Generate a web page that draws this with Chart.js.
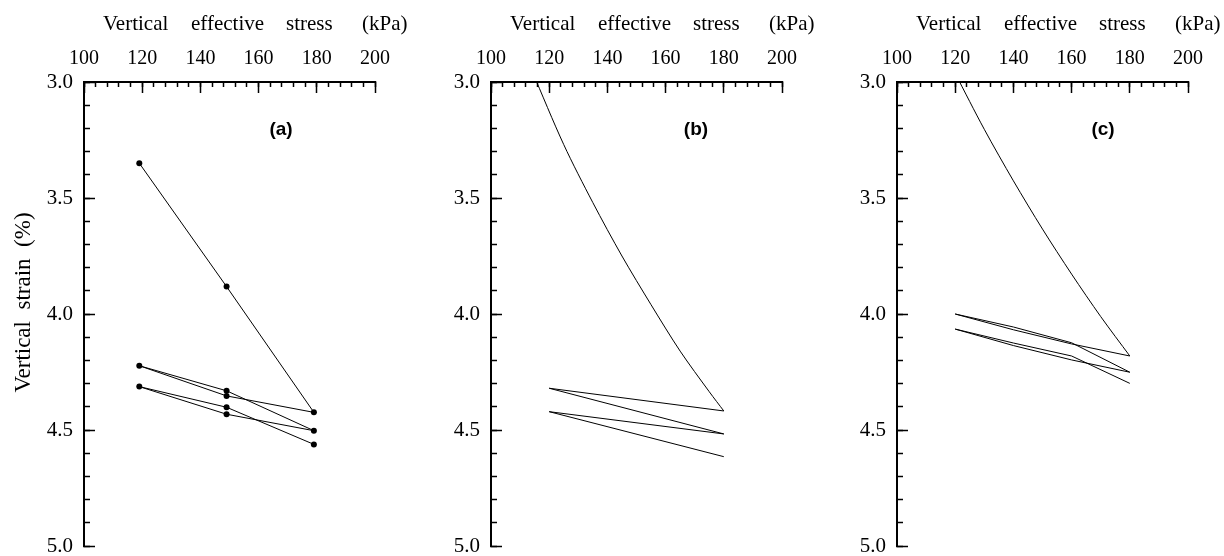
<!DOCTYPE html>
<html>
<head>
<meta charset="utf-8">
<script src="https://cdn.jsdelivr.net/npm/chart.js@4.4.1/dist/chart.umd.min.js"></script>
<style>
html, body { margin: 0; padding: 0; background: #fff; }
#wrap { position: relative; width: 1224px; height: 556px; overflow: hidden; }
canvas { position: absolute; top: 0; }
</style>
</head>
<body>
<div id="wrap">
<canvas id="chartA" width="440" height="556" style="left:0px"></canvas>
<canvas id="chartB" width="440" height="556" style="left:407px"></canvas>
<canvas id="chartC" width="440" height="556" style="left:813px"></canvas>
</div>
<script>
// axis ticks
var xTicks = [100, 120, 140, 160, 180, 200];
var yTicks = [3.0, 3.5, 4.0, 4.5, 5.0];
var titleWords = ['Vertical', 'effective', 'stress', '(kPa)'];

// (a) measured points, in test order (load / unload / reload)
var stressA = [119, 149, 179, 149, 119, 149, 179, 149, 119, 149, 179];
var strainA = [3.35, 3.882, 4.424, 4.353, 4.223, 4.331, 4.503, 4.432, 4.313, 4.402, 4.562];

// (b) model: virgin curve then unload/reload cycles
var curveStressB = [114, 125, 135, 145, 155, 165, 175, 180];
var curveStrainB = [2.95, 3.27, 3.52, 3.75, 3.96, 4.16, 4.335, 4.418];
var cycleStressB = [180, 120, 180, 120, 180];
var cycleStrainB = [4.418, 4.32, 4.517, 4.421, 4.615];

// (c) model
var curveStressC = [120, 130, 140, 150, 160, 170, 180];
var curveStrainC = [2.963, 3.204, 3.426, 3.634, 3.828, 4.011, 4.181];
var cycleStressC = [180, 160, 140, 120, 140, 160, 180, 160, 140, 120, 140, 160, 180];
var cycleStrainC = [4.181, 4.129, 4.068, 4.0, 4.056, 4.124, 4.251, 4.198, 4.136, 4.065, 4.125, 4.181, 4.299];

Chart.defaults.font.family = '"Liberation Serif", "Times New Roman", serif';
Chart.defaults.color = '#000';

function toPoints(xs, ys) {
    return xs.map(function (x, i) { return { x: x, y: ys[i] }; });
}

function line(xs, ys, opts) {
    var ds = {
        data: toPoints(xs, ys),
        showLine: true,
        borderColor: '#000',
        borderWidth: 1,
        pointRadius: 0,
        tension: 0,
        xAxisID: 'x',
        yAxisID: 'y'
    };
    for (var k in opts) ds[k] = opts[k];
    return ds;
}

// axis title words and panel letter
var panelText = {
    id: 'panelText',
    afterDraw: function (chart, args, options) {
        var ctx = chart.ctx, area = chart.chartArea;
        var offs = [19, 107, 202, 278];
        ctx.save();
        ctx.fillStyle = '#000';
        ctx.font = '21px "Liberation Serif", "Times New Roman", serif';
        ctx.textBaseline = 'alphabetic';
        titleWords.forEach(function (w, i) {
            ctx.fillText(w, area.left + offs[i], 30);
        });
        ctx.font = 'bold 19px "Liberation Sans", Arial, sans-serif';
        ctx.textAlign = 'center';
        ctx.textBaseline = 'middle';
        ctx.fillText(options.letter, area.left + options.letterX, 130);
        ctx.restore();
    }
};

function makeChart(id, datasets, letter, letterX, showYTitle) {
    var ctx = document.getElementById(id).getContext('2d');
    return new Chart(ctx, {
        type: 'scatter',
        data: { datasets: datasets },
        plugins: [panelText],
        options: {
            responsive: false,
            animation: false,
            layout: { padding: { left: 0, top: 0, right: 65, bottom: 10 } },
            plugins: {
                legend: { display: false },
                tooltip: { enabled: false },
                panelText: { letter: letter, letterX: letterX }
            },
            scales: {
                x: {
                    type: 'linear', position: 'top', min: 100, max: 200, weight: 1,
                    afterBuildTicks: function (s) { s.ticks = xTicks.map(function (v) { return { value: v }; }); },
                    afterFit: function (s) { s.height = 82; s.paddingLeft = 0; s.paddingRight = 0; },
                    ticks: { padding: 22, font: { size: 20 }, maxRotation: 0 },
                    grid: { drawOnChartArea: false, tickLength: -11, tickWidth: 1.5, tickColor: '#000' },
                    border: { color: '#000', width: 2 }
                },
                xMinor: {
                    type: 'linear', position: 'top', min: 100, max: 200, weight: 0,
                    afterFit: function (s) { s.height = 0; s.paddingLeft = 0; s.paddingRight = 0; },
                    ticks: { display: false, stepSize: 4 },
                    grid: { drawOnChartArea: false, tickLength: -5, tickWidth: 1.5, tickColor: '#000' },
                    border: { display: false }
                },
                y: {
                    type: 'linear', position: 'left', min: 3, max: 5, reverse: true, weight: 1,
                    afterBuildTicks: function (s) { s.ticks = yTicks.map(function (v) { return { value: v }; }); },
                    afterFit: function (s) { s.width = 84; s.paddingTop = 0; s.paddingBottom = 0; },
                    ticks: {
                        padding: 22, font: { size: 21 },
                        callback: function (v) { return Number(v).toFixed(1); }
                    },
                    title: {
                        display: showYTitle, text: '    Vertical  strain  (%)',
                        font: { size: 23 }, padding: { top: 10, bottom: 0 }
                    },
                    grid: { drawOnChartArea: false, tickLength: -11, tickWidth: 1.5, tickColor: '#000' },
                    border: { color: '#000', width: 2 }
                },
                yMinor: {
                    type: 'linear', position: 'left', min: 3, max: 5, reverse: true, weight: 0,
                    afterFit: function (s) { s.width = 0; s.paddingTop = 0; s.paddingBottom = 0; },
                    ticks: { display: false, stepSize: 0.1 },
                    grid: { drawOnChartArea: false, tickLength: -6, tickWidth: 1.5, tickColor: '#000' },
                    border: { display: false }
                }
            }
        }
    });
}

makeChart('chartA', [
    line(stressA, strainA, { pointRadius: 3, pointBackgroundColor: '#000', pointBorderWidth: 0 })
], '(a)', 197, true);

makeChart('chartB', [
    line(curveStressB, curveStrainB, { tension: 0.3 }),
    line(cycleStressB, cycleStrainB)
], '(b)', 205, false);

makeChart('chartC', [
    line(curveStressC, curveStrainC, { tension: 0.3 }),
    line(cycleStressC, cycleStrainC)
], '(c)', 206, false);
</script>
</body>
</html>
